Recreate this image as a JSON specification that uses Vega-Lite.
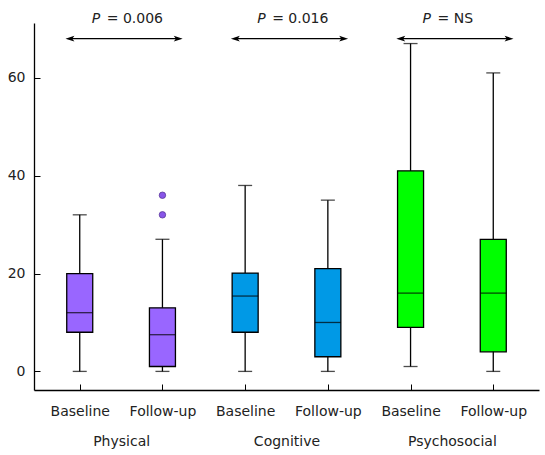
{
  "$schema": "https://vega.github.io/schema/vega-lite/v6.json",
  "background": "white",
  "padding": {"left": 7, "top": 12, "right": 3, "bottom": 5},
  "width": 505,
  "height": 367,
  "config": {
    "view": {"stroke": null},
    "font": "DejaVu Sans",
    "axis": {"labelFont": "DejaVu Sans", "labelFontSize": 14, "labelColor": "#222", "domainColor": "#000", "tickColor": "#000", "grid": false, "title": null}
  },
  "data": {"values": [
    {"kind": "box", "key": "Physical|Baseline", "group": "Physical", "lower": 0, "q1": 8, "median": 12, "q3": 20, "upper": 32},
    {"kind": "box", "key": "Physical|Follow-up", "group": "Physical", "lower": 0, "q1": 1, "median": 7.5, "q3": 13, "upper": 27},
    {"kind": "box", "key": "Cognitive|Baseline", "group": "Cognitive", "lower": 0, "q1": 8, "median": 15.4, "q3": 20.1, "upper": 38},
    {"kind": "box", "key": "Cognitive|Follow-up", "group": "Cognitive", "lower": 0, "q1": 3, "median": 10, "q3": 21, "upper": 35},
    {"kind": "box", "key": "Psychosocial|Baseline", "group": "Psychosocial", "lower": 1, "q1": 9, "median": 16, "q3": 41, "upper": 67},
    {"kind": "box", "key": "Psychosocial|Follow-up", "group": "Psychosocial", "lower": 0, "q1": 4, "median": 16, "q3": 27, "upper": 61},
    {"kind": "outlier", "key": "Physical|Follow-up", "group": "Physical", "value": 36},
    {"kind": "outlier", "key": "Physical|Follow-up", "group": "Physical", "value": 32},
    {"kind": "ann", "key": "Physical|Baseline", "to": "Physical|Follow-up", "group": "Physical", "arrow": 68, "texty": 72, "p": "P", "label": "= 0.006"},
    {"kind": "ann", "key": "Cognitive|Baseline", "to": "Cognitive|Follow-up", "group": "Cognitive", "arrow": 68, "texty": 72, "p": "P", "label": "= 0.016"},
    {"kind": "ann", "key": "Psychosocial|Baseline", "to": "Psychosocial|Follow-up", "group": "Psychosocial", "arrow": 68, "texty": 72, "p": "P", "label": "= NS"}
  ]},
  "layer": [
    {
      "encoding": {
        "x": {"field": "key", "type": "nominal",
          "sort": ["Physical|Baseline", "Physical|Follow-up", "Cognitive|Baseline", "Cognitive|Follow-up", "Psychosocial|Baseline", "Psychosocial|Follow-up"],
          "scale": {"type": "point", "padding": 0.553, "domain": ["Physical|Baseline", "Physical|Follow-up", "Cognitive|Baseline", "Cognitive|Follow-up", "Psychosocial|Baseline", "Psychosocial|Follow-up"]},
          "axis": {"orient": "bottom", "labelAngle": 0, "tickSize": -6, "labelPadding": 20, "domainWidth": 1.3, "labelExpr": "split(datum.label, '|')[1]"}}
      },
      "layer": [
        {
          "transform": [{"filter": "datum.kind === 'box'"}],
          "mark": {"type": "rule", "color": "#000", "strokeWidth": 1.3},
          "encoding": {
            "y": {"field": "lower", "type": "quantitative", "scale": {"domain": [-3.8, 71.2], "nice": false, "zero": false},
              "axis": {"values": [0, 20, 40, 60], "tickSize": -6, "labelPadding": 15, "domainWidth": 1.3}},
            "y2": {"field": "upper"}
          }
        },
        {
          "transform": [{"filter": "datum.kind === 'box'"}],
          "mark": {"type": "tick", "color": "#000", "size": 14, "thickness": 1.3},
          "encoding": {"y": {"field": "lower", "type": "quantitative"}}
        },
        {
          "transform": [{"filter": "datum.kind === 'box'"}],
          "mark": {"type": "tick", "color": "#000", "size": 14, "thickness": 1.3},
          "encoding": {"y": {"field": "upper", "type": "quantitative"}}
        },
        {
          "transform": [{"filter": "datum.kind === 'box'"}],
          "mark": {"type": "bar", "size": 26, "stroke": "#000", "strokeWidth": 1.3},
          "encoding": {
            "y": {"field": "q1", "type": "quantitative"},
            "y2": {"field": "q3"},
            "color": {"field": "group", "type": "nominal", "scale": {"domain": ["Physical", "Cognitive", "Psychosocial"], "range": ["#9966FF", "#0099E6", "#00FF00"]}, "legend": null}
          }
        },
        {
          "transform": [{"filter": "datum.kind === 'box'"}],
          "mark": {"type": "tick", "color": "#000", "size": 26, "thickness": 1.3},
          "encoding": {"y": {"field": "median", "type": "quantitative"}}
        },
        {
          "transform": [{"filter": "datum.kind === 'outlier'"}],
          "mark": {"type": "point", "filled": true, "size": 42, "color": "#8855E8", "stroke": "#5a3a9a", "strokeWidth": 0.8, "opacity": 1},
          "encoding": {"y": {"field": "value", "type": "quantitative"}}
        },
        {
          "transform": [{"filter": "datum.kind === 'ann'"}],
          "mark": {"type": "rule", "color": "#000", "strokeWidth": 1.3, "xOffset": -8, "x2Offset": 14},
          "encoding": {
            "x2": {"field": "to"},
            "y": {"field": "arrow", "type": "quantitative"}
          }
        },
        {
          "transform": [{"filter": "datum.kind === 'ann'"}],
          "mark": {"type": "point", "filled": true, "color": "#000", "opacity": 1, "size": 110, "xOffset": -9, "shape": "M -1 0 L 0.7 -0.55 L 0.3 0 L 0.7 0.55 Z"},
          "encoding": {"y": {"field": "arrow", "type": "quantitative"}}
        },
        {
          "transform": [{"filter": "datum.kind === 'ann'"}],
          "mark": {"type": "point", "filled": true, "color": "#000", "opacity": 1, "size": 110, "xOffset": 15, "shape": "M 1 0 L -0.7 -0.55 L -0.3 0 L -0.7 0.55 Z"},
          "encoding": {
            "x": {"field": "to", "type": "nominal"},
            "y": {"field": "arrow", "type": "quantitative"}
          }
        },
        {
          "transform": [{"filter": "datum.kind === 'ann'"}],
          "mark": {"type": "text", "align": "left", "baseline": "middle", "dx": 12, "fontSize": 14, "fontStyle": "italic", "font": "DejaVu Sans", "color": "#222"},
          "encoding": {
            "y": {"field": "texty", "type": "quantitative"},
            "text": {"field": "p"}
          }
        },
        {
          "transform": [{"filter": "datum.kind === 'ann'"}],
          "mark": {"type": "text", "align": "left", "baseline": "middle", "dx": 27, "fontSize": 14, "font": "DejaVu Sans", "color": "#222"},
          "encoding": {
            "y": {"field": "texty", "type": "quantitative"},
            "text": {"field": "label"}
          }
        }
      ]
    },
    {
      "transform": [{"filter": "datum.kind === 'box'"}],
      "mark": {"type": "point", "opacity": 0},
      "encoding": {
        "x": {"field": "group", "type": "nominal", "sort": ["Physical", "Cognitive", "Psychosocial"],
          "scale": {"type": "point", "padding": 0.527},
          "axis": {"orient": "bottom", "labelAngle": 0, "domain": false, "ticks": false, "tickSize": 0, "labelPadding": 44}},
        "y": {"field": "median", "type": "quantitative"}
      }
    }
  ],
  "resolve": {"scale": {"x": "independent"}, "axis": {"x": "independent"}}
}
